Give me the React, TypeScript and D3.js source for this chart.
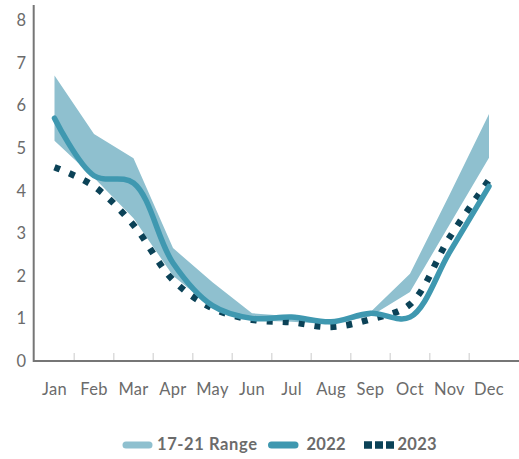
import React from "react";
import * as d3 from "d3";

const months = ["Jan", "Feb", "Mar", "Apr", "May", "Jun", "Jul", "Aug", "Sep", "Oct", "Nov", "Dec"];
const rangeLow = [5.17, 4.3, 3.35, 2.0, 1.25, 0.95, 0.92, 0.86, 1.05, 1.62, 3.2, 4.77];
const rangeHigh = [6.7, 5.33, 4.76, 2.65, 1.85, 1.12, 1.05, 0.95, 1.15, 2.05, 3.9, 5.8];
const y2022 = [5.7, 4.35, 4.18, 2.3, 1.3, 1.0, 1.03, 0.92, 1.12, 1.03, 2.55, 4.1];
const y2023 = [4.55, 4.1, 3.19, 1.9, 1.24, 0.97, 0.91, 0.8, 0.98, 1.33, 2.9, 4.25];
const yTicks = [0, 1, 2, 3, 4, 5, 6, 7, 8];
const legendLabels = ["17-21 Range", "2022", "2023"];

const W = 519;
const H = 459;
const C_RANGE = "#8fc0cf";
const C_2022 = "#3f98b0";
const C_2023 = "#0b4257";
const C_AXIS = "#767676";
const C_TEXT = "#6b6b6b";
const FONT = "Lato, 'Open Sans', sans-serif";

export default function App() {
  const x = d3.scalePoint<string>().domain(months).range([54.5, 489]);
  const y = d3.scaleLinear().domain([0, 8]).range([361, 20.2]);

  const area = d3
    .area<number>()
    .x((_, i) => x(months[i]) as number)
    .y0((_, i) => y(rangeLow[i]))
    .y1((_, i) => y(rangeHigh[i]))
    .curve(d3.curveLinear);

  const line = d3
    .line<number>()
    .x((_, i) => x(months[i]) as number)
    .y((d) => y(d))
    .curve(d3.curveCatmullRom.alpha(0.5));

  const tickXs = months.slice(0, -1).map((m, i) => ((x(m) as number) + (x(months[i + 1]) as number)) / 2);

  return (
    <svg width={W} height={H} style={{ position: "absolute", left: 0, top: 0 }} fontFamily={FONT}>
      <rect width={W} height={H} fill="#fff" />
      <path d={area(rangeLow) || ""} fill={C_RANGE} />
      <path
        d={line(y2023) || ""}
        fill="none"
        stroke={C_2023}
        strokeWidth={6.5}
        strokeDasharray="6 10"
      />
      <path d={line(y2022) || ""} fill="none" stroke={C_2022} strokeWidth={5.5} strokeLinecap="round" />

      {tickXs.map((tx, i) => (
        <line key={i} x1={tx} x2={tx} y1={353} y2={360} stroke="#dcdcdc" strokeWidth={1.5} />
      ))}
      <line x1={33.7} x2={33.7} y1={5} y2={362} stroke={C_AXIS} strokeWidth={2} />
      <line x1={33} x2={W} y1={361} y2={361} stroke={C_AXIS} strokeWidth={2.2} />

      {yTicks.map((t) => (
        <text key={t} x={26} y={y(t)} dy="0.36em" textAnchor="end" fontSize={16.5} fill={C_TEXT}>
          {t}
        </text>
      ))}
      {months.map((m) => (
        <text key={m} x={x(m) as number} y={395} textAnchor="middle" fontSize={16.5} fill={C_TEXT} letterSpacing={0.3}>
          {m}
        </text>
      ))}

      <g fontSize={16.5} fontWeight={700} fill={C_TEXT}>
        <line x1={126} x2={149} y1={445} y2={445} stroke={C_RANGE} strokeWidth={7} strokeLinecap="round" />
        <text x={157} y={450} letterSpacing={0.6}>{legendLabels[0]}</text>
        <line x1={271.5} x2={295} y1={445} y2={445} stroke={C_2022} strokeWidth={7} strokeLinecap="round" />
        <text x={306.5} y={450} letterSpacing={0.3}>{legendLabels[1]}</text>
        <line x1={364} x2={394} y1={445} y2={445} stroke={C_2023} strokeWidth={7.5} strokeDasharray="8 3" />
        <text x={397.5} y={450} letterSpacing={0.3}>{legendLabels[2]}</text>
      </g>
    </svg>
  );
}
